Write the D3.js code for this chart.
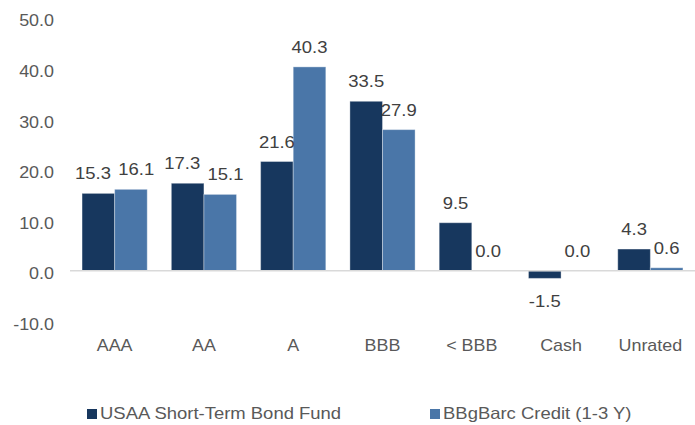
<!DOCTYPE html>
<html>
<head>
<meta charset="utf-8">
<script src="https://cdn.jsdelivr.net/npm/d3@7"></script>
<style>
  body { margin: 0; background: #fff; }
  text { font-family: "Liberation Sans", Arial, sans-serif; }
</style>
</head>
<body>
<div id="chart"></div>
<script>
  // chart values
  var categories = ["AAA", "AA", "A", "BBB", "< BBB", "Cash", "Unrated"];
  var seriesNames = ["USAA Short-Term Bond Fund", "BBgBarc Credit (1-3 Y)"];
  var fundValues = [15.3, 17.3, 21.6, 33.5, 9.5, -1.5, 4.3];
  var indexValues = [16.1, 15.1, 40.3, 27.9, 0.0, 0.0, 0.6];
  var yTicks = [-10, 0, 10, 20, 30, 40, 50];
  var colors = ["#17375e", "#4a76a8"];

  var width = 695, height = 425;
  var stretch = 1.12; // the text in the original is a bit wide

  var svg = d3.select("#chart")
    .append("svg")
    .attr("width", width)
    .attr("height", height);

  var xScale = d3.scaleBand()
    .domain(categories)
    .range([70, 695])
    .paddingInner(0.27)
    .paddingOuter(0.135);

  var xInner = d3.scaleBand()
    .domain([0, 1])
    .range([0, xScale.bandwidth()]);

  var yScale = d3.scaleLinear()
    .domain([-10, 50])
    .range([321.4, 17.8]);

  // one decimal, plain hyphen for negatives
  function fmt(v) { return v.toFixed(1); }

  // places text at x,y with a horizontal stretch
  function placeText(sel, xf, yf) {
    return sel.append("g")
      .attr("transform", (d, i) => "translate(" + xf(d, i) + "," + yf(d, i) + ") scale(" + stretch + ",1)")
      .append("text");
  }

  // y axis labels (no line, no ticks)
  var yAxis = svg.append("g")
    .attr("transform", "translate(54,0)")
    .call(d3.axisLeft(yScale).tickValues(yTicks).tickSize(0).tickPadding(0).tickFormat(fmt));
  yAxis.select(".domain").remove();
  yAxis.selectAll("text")
    .attr("font-size", 16)
    .attr("fill", "#595959")
    .attr("font-family", "Liberation Sans, Arial, sans-serif")
    .attr("dy", "0.5em")
    .attr("transform", "scale(" + stretch + ",1)");

  var data = [];
  categories.forEach(function(c, i) {
    data.push({cat: c, s: 0, value: fundValues[i]});
    data.push({cat: c, s: 1, value: indexValues[i]});
  });

  svg.selectAll("rect.bar")
    .data(data)
    .enter()
    .append("rect")
    .attr("class", "bar")
    .attr("x", d => xScale(d.cat) + xInner(d.s))
    .attr("y", d => yScale(Math.max(0, d.value)))
    .attr("width", xInner.bandwidth())
    .attr("height", d => Math.abs(yScale(d.value) - yScale(0)))
    .attr("fill", d => colors[d.s])
    .attr("stroke", "rgba(255,255,255,0.35)")
    .attr("stroke-width", 1);

  // zero line
  svg.append("line")
    .attr("x1", 70).attr("x2", 695)
    .attr("y1", yScale(0)).attr("y2", yScale(0))
    .attr("stroke", "#d9d9d9")
    .attr("stroke-width", 1.5);

  // data labels
  data.forEach(function(d) {
    d.lx = xScale(d.cat) + xInner(d.s) + xInner.bandwidth() / 2;
    d.ly = d.value < 0 ? yScale(d.value) + 29 : yScale(d.value) - 14;
  });
  var lblGroups = svg.selectAll("g.lbl")
    .data(data)
    .enter()
    .append("g")
    .attr("class", "lbl");
  lblGroups.append("text")
    .attr("transform", "scale(" + stretch + ",1)")
    .attr("text-anchor", "middle")
    .attr("font-size", 16.5)
    .attr("fill", "#404040")
    .text(d => fmt(d.value));

  // push apart labels of the same category if they collide (like excel does)
  lblGroups.each(function(d) { d.w = this.getBBox().width * stretch; });
  categories.forEach(function(c) {
    var pair = data.filter(d => d.cat === c);
    var a = pair[0], b = pair[1];
    var overlapY = Math.abs(a.ly - b.ly) < 13;
    var gap = (b.lx - b.w / 2) - (a.lx + a.w / 2);
    if (overlapY && gap < 3) {
      var shift = (3 - gap) / 2;
      a.lx -= shift;
      b.lx += shift;
    }
  });
  lblGroups.attr("transform", d => "translate(" + d.lx + "," + d.ly + ")");

  // category labels
  placeText(svg.selectAll("g.cat").data(categories).enter(),
      d => xScale(d) + xScale.bandwidth() / 2,
      d => 351)
    .attr("text-anchor", "middle")
    .attr("font-size", 16)
    .attr("fill", "#595959")
    .text(d => d);

  // legend
  var legendX = [87, 430];
  var legend = svg.selectAll("g.legend")
    .data(seriesNames)
    .enter()
    .append("g")
    .attr("class", "legend")
    .attr("transform", (d, i) => "translate(" + legendX[i] + ",409)");
  legend.append("rect")
    .attr("width", 10).attr("height", 10)
    .attr("fill", (d, i) => colors[i]);
  legend.append("g")
    .attr("transform", "translate(13,10) scale(" + stretch + ",1)")
    .append("text")
    .attr("font-size", 16.5)
    .attr("fill", "#595959")
    .text(d => d);
</script>
</body>
</html>
